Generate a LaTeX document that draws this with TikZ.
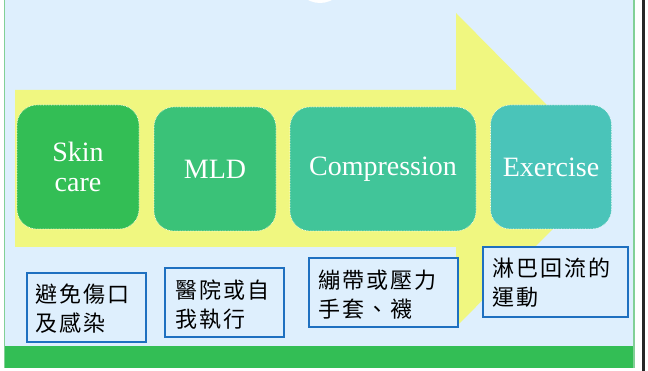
\documentclass[tikz,border=0pt]{standalone}
\usepackage{fontspec}
\setmainfont{Liberation Serif}
\newfontfamily\cjk[LetterSpace=9]{Noto Sans CJK TC}
\definecolor{bgblue}{RGB}{222,239,253}
\definecolor{arrowyellow}{RGB}{240,247,128}
\definecolor{gA}{RGB}{51,190,85}
\definecolor{gB}{RGB}{58,194,120}
\definecolor{gC}{RGB}{65,197,153}
\definecolor{gD}{RGB}{74,196,185}
\definecolor{noteblue}{RGB}{30,112,192}
\definecolor{edgegreen}{RGB}{130,208,150}
\tikzset{
  stage/.style={fill=#1, draw=white, densely dotted, line width=0.6pt, rounded corners=20pt,
    text=white, font=\fontsize{28}{30}\selectfont, align=center, inner sep=0pt},
  notebox/.style={draw=noteblue, line width=1.6pt, fill=bgblue},
  notetext/.style={anchor=west, font=\cjk\fontsize{22}{29}\selectfont, align=left, inner sep=0pt},
}
\begin{document}
\begin{tikzpicture}[x=1pt,y=-1pt]
\useasboundingbox (0,0) rectangle (648,371);
\fill[white] (0,0) rectangle (648,371);
\fill[bgblue] (5,0) rectangle (633,346);
\fill[gA] (5,346) rectangle (634,368);
\fill[edgegreen] (3.5,0) rectangle (5,368);
\fill[edgegreen] (633,0) rectangle (635,368);
\fill[black!85] (642,0) rectangle (645,371);
\fill[white] (320,-22.5) circle (25.5);
% big arrow
\fill[arrowyellow] (15,90) -- (456,90) -- (456,13) -- (611,170) -- (456,327) -- (456,247) -- (15,247) -- cycle;
% stages
\node[stage=gA, minimum width=122pt, minimum height=124pt] (s1) at (78,167) {Skin\\care};
\node[stage=gB, minimum width=122pt, minimum height=124pt] (s2) at (215,169) {MLD};
\node[stage=gC, minimum width=186pt, minimum height=124pt] (s3) at (383,169) {Compression};
\node[stage=gD, minimum width=121pt, minimum height=124pt] (s4) at (551,167) {Exercise};
% notes
\draw[notebox] (27,273) rectangle (146,342);
\node[notetext] (n1) at (35,309) {避免傷口\\及感染};
\draw[notebox] (165,268) rectangle (284,337);
\node[notetext] (n2) at (175,305) {醫院或自\\我執行};
\draw[notebox] (309,258) rectangle (458,327);
\node[notetext] (n3) at (318,295) {繃帶或壓力\\手套、襪};
\draw[notebox] (483,247) rectangle (628,317);
\node[notetext] (n4) at (492,283) {淋巴回流的\\運動};
\end{tikzpicture}
\end{document}
